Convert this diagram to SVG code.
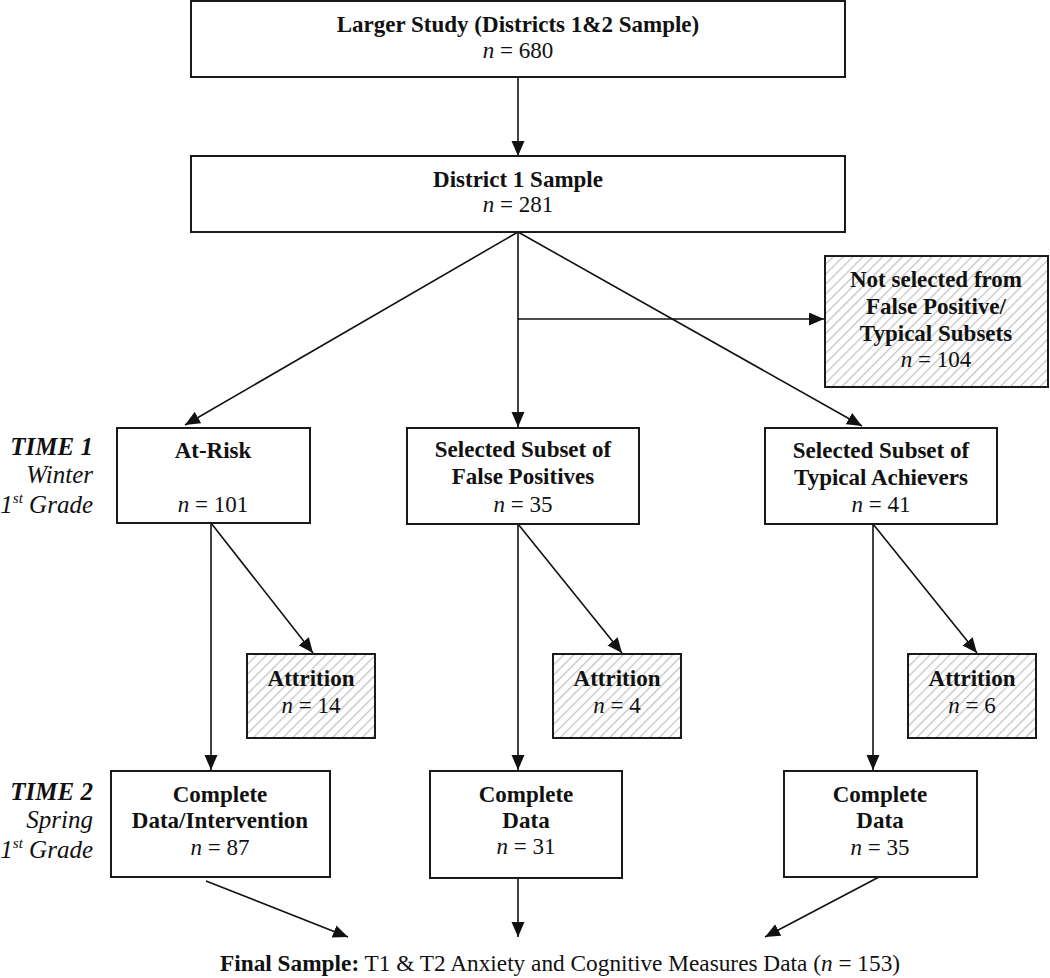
<svg xmlns="http://www.w3.org/2000/svg" width="1050" height="978" viewBox="0 0 1050 978">
<style>
.box{fill:#fff;stroke:#1a1a1a;stroke-width:2}
.hbox{fill:url(#hatch);stroke:#1a1a1a;stroke-width:2}
.t{font-family:"Liberation Serif","Times New Roman",serif;font-size:23px;fill:#111;text-anchor:middle}
.lbl{font-size:25px}
.b{font-weight:bold}
.i{font-style:italic}
.r{text-anchor:end}
.c line{stroke:#111;stroke-width:1.6;fill:none}
.a{marker-end:url(#ah)}
</style>
<defs>
<pattern id="hatch" patternUnits="userSpaceOnUse" width="7" height="7" patternTransform="rotate(45)">
<rect width="7" height="7" fill="#fff"/>
<line x1="0" y1="0" x2="0" y2="7" stroke="#c4c4c4" stroke-width="2.6"/>
</pattern>
<marker id="ah" markerUnits="userSpaceOnUse" markerWidth="16" markerHeight="14" refX="15" refY="6.5" orient="auto">
<path d="M0,0 L15,6.5 L0,13 z" fill="#111"/>
</marker>
</defs>

<g class="c">
<line class="a" x1="518" y1="77" x2="518" y2="156"/>
<line class="a" x1="518" y1="232" x2="185" y2="425"/>
<line class="a" x1="518" y1="232" x2="518" y2="427"/>
<line class="a" x1="518" y1="319" x2="824" y2="319"/>
<line class="a" x1="518" y1="232" x2="862" y2="426"/>
<line class="a" x1="211" y1="523" x2="211" y2="770"/>
<line class="a" x1="211" y1="523" x2="313" y2="653"/>
<line class="a" x1="518" y1="524" x2="518" y2="770"/>
<line class="a" x1="518" y1="524" x2="622" y2="653"/>
<line class="a" x1="873" y1="524" x2="873" y2="770"/>
<line class="a" x1="873" y1="524" x2="977" y2="653"/>
<line class="a" x1="206" y1="881" x2="348" y2="937"/>
<line class="a" x1="518" y1="878" x2="518" y2="937"/>
<line class="a" x1="879" y1="877" x2="765" y2="937"/>
</g>

<g id="larger">
<rect class="box" x="191" y="1" width="654" height="76"/>
<text class="t b" x="518" y="32">Larger Study (Districts 1&amp;2 Sample)</text>
<text class="t" x="518" y="58"><tspan class="i">n</tspan> = 680</text>
</g>

<g id="district1">
<rect class="box" x="191" y="156" width="654" height="76"/>
<text class="t b" x="518" y="187">District 1 Sample</text>
<text class="t" x="518" y="212"><tspan class="i">n</tspan> = 281</text>
</g>

<g id="notselected">
<rect class="hbox" x="825" y="256" width="223" height="131"/>
<text class="t b" x="936" y="287">Not selected from</text>
<text class="t b" x="936" y="314">False Positive/</text>
<text class="t b" x="936" y="341">Typical Subsets</text>
<text class="t" x="936" y="367"><tspan class="i">n</tspan> = 104</text>
</g>

<g id="time1">
<text class="t lbl b i r" x="93" y="455">TIME 1</text>
<text class="t lbl i r" x="93" y="483">Winter</text>
<text class="t lbl i r" x="93" y="513">1<tspan font-size="15" dy="-10">st</tspan><tspan dy="10"> Grade</tspan></text>
</g>

<g id="atrisk">
<rect class="box" x="117" y="428" width="193" height="95"/>
<text class="t b" x="213" y="458">At-Risk</text>
<text class="t" x="213" y="512"><tspan class="i">n</tspan> = 101</text>
</g>

<g id="falsepos">
<rect class="box" x="407" y="428" width="232" height="96"/>
<text class="t b" x="523" y="457">Selected Subset of</text>
<text class="t b" x="523" y="484">False Positives</text>
<text class="t" x="523" y="512"><tspan class="i">n</tspan> = 35</text>
</g>

<g id="typical">
<rect class="box" x="765" y="428" width="232" height="96"/>
<text class="t b" x="881" y="458">Selected Subset of</text>
<text class="t b" x="881" y="485">Typical Achievers</text>
<text class="t" x="881" y="512"><tspan class="i">n</tspan> = 41</text>
</g>

<g id="attr1">
<rect class="hbox" x="247" y="654" width="128" height="84"/>
<text class="t b" x="311" y="686">Attrition</text>
<text class="t" x="311" y="713"><tspan class="i">n</tspan> = 14</text>
</g>

<g id="attr2">
<rect class="hbox" x="553" y="654" width="128" height="84"/>
<text class="t b" x="617" y="686">Attrition</text>
<text class="t" x="617" y="713"><tspan class="i">n</tspan> = 4</text>
</g>

<g id="attr3">
<rect class="hbox" x="908" y="654" width="128" height="84"/>
<text class="t b" x="972" y="686">Attrition</text>
<text class="t" x="972" y="713"><tspan class="i">n</tspan> = 6</text>
</g>

<g id="time2">
<text class="t lbl b i r" x="93" y="800">TIME 2</text>
<text class="t lbl i r" x="93" y="828">Spring</text>
<text class="t lbl i r" x="93" y="858">1<tspan font-size="15" dy="-10">st</tspan><tspan dy="10"> Grade</tspan></text>
</g>

<g id="complete1">
<rect class="box" x="111" y="771" width="219" height="106"/>
<text class="t b" x="220" y="802">Complete</text>
<text class="t b" x="220" y="828">Data/Intervention</text>
<text class="t" x="220" y="855"><tspan class="i">n</tspan> = 87</text>
</g>

<g id="complete2">
<rect class="box" x="430" y="771" width="192" height="107"/>
<text class="t b" x="526" y="802">Complete</text>
<text class="t b" x="526" y="828">Data</text>
<text class="t" x="526" y="854"><tspan class="i">n</tspan> = 31</text>
</g>

<g id="complete3">
<rect class="box" x="784" y="771" width="193" height="106"/>
<text class="t b" x="880" y="802">Complete</text>
<text class="t b" x="880" y="828">Data</text>
<text class="t" x="880" y="855"><tspan class="i">n</tspan> = 35</text>
</g>

<g id="final">
<text class="t" x="220" y="971" style="text-anchor:start;font-size:23.3px"><tspan class="b">Final Sample:</tspan> T1 &amp; T2 Anxiety and Cognitive Measures Data (<tspan class="i">n</tspan> = 153)</text>
</g>
</svg>
